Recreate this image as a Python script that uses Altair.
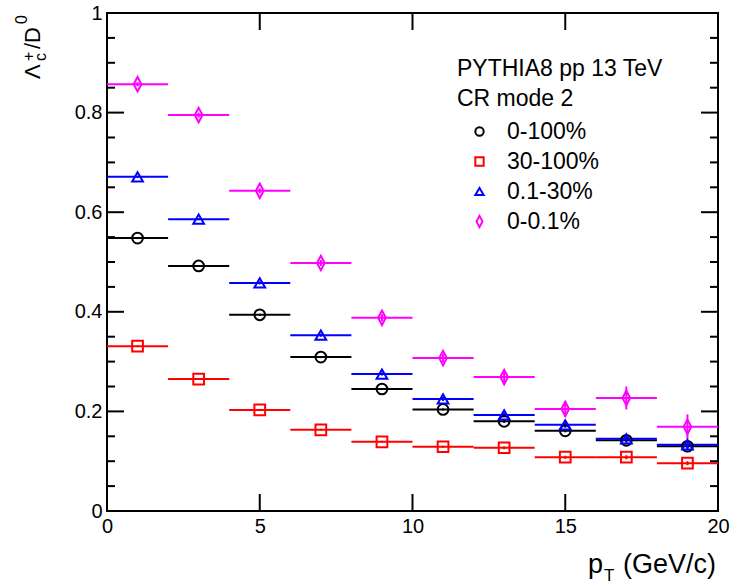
import altair as alt
import pandas as pd

FONT = "Liberation Sans"

series_names = ["0-100%", "30-100%", "0.1-30%", "0-0.1%"]
series_colors = ["#000000", "#ff0000", "#0000ff", "#ff00ff"]
series_shapes = ["circle", "square", "triangle-up", "M0,-1.35L0.72,0L0,1.35L-0.72,0Z"]

pt_center = [1, 3, 5, 7, 9, 11, 13, 15, 17, 19]
pt_lo = [0, 2, 4, 6, 8, 10, 12, 14, 16, 18]
pt_hi = [2, 4, 6, 8, 10, 12, 14, 16, 18, 20]

ratio_0_100 = [0.548, 0.492, 0.394, 0.309, 0.245, 0.204, 0.180, 0.161, 0.142, 0.130]
ratio_30_100 = [0.331, 0.265, 0.203, 0.163, 0.139, 0.129, 0.127, 0.108, 0.108, 0.096]
ratio_01_30 = [0.671, 0.586, 0.458, 0.353, 0.275, 0.225, 0.193, 0.173, 0.145, 0.133]
ratio_0_01 = [0.857, 0.795, 0.643, 0.498, 0.388, 0.307, 0.269, 0.205, 0.227, 0.169]

err_0_100 = [0.002, 0.002, 0.002, 0.002, 0.002, 0.002, 0.003, 0.003, 0.004, 0.004]
err_30_100 = [0.002, 0.002, 0.002, 0.002, 0.002, 0.002, 0.003, 0.003, 0.004, 0.004]
err_01_30 = [0.002, 0.002, 0.003, 0.003, 0.003, 0.004, 0.005, 0.006, 0.008, 0.010]
err_0_01 = [0.004, 0.005, 0.005, 0.006, 0.007, 0.008, 0.011, 0.015, 0.023, 0.025]

x_major = [0, 5, 10, 15, 20]
y_major = [0, 0.2, 0.4, 0.6, 0.8, 1]
y_minor = [0.05, 0.1, 0.15, 0.25, 0.3, 0.35, 0.45, 0.5, 0.55, 0.65, 0.7, 0.75, 0.85, 0.9, 0.95]

W, H = 611, 498

rows = []
for name, vals, errs in zip(series_names,
                            [ratio_0_100, ratio_30_100, ratio_01_30, ratio_0_01],
                            [err_0_100, err_30_100, err_01_30, err_0_01]):
    for c, lo, hi, v, e in zip(pt_center, pt_lo, pt_hi, vals, errs):
        rows.append({"series": name, "pt": c, "lo": lo, "hi": hi, "val": v,
                     "ylo": v - e, "yhi": v + e})
df = pd.DataFrame(rows)

xscale = alt.Scale(domain=[0, 20], nice=False, zero=False)
yscale = alt.Scale(domain=[0, 1], nice=False, zero=False)
xaxis = alt.Axis(values=x_major, format="d", title=None, labelFlush=False,
                 labelPadding=5)
yaxis = alt.Axis(values=y_major, format="~g", title=None, labelPadding=5)

color_scale = alt.Scale(domain=series_names, range=series_colors)
shape_scale = alt.Scale(domain=series_names, range=series_shapes)
legend_title = ["PYTHIA8 pp 13 TeV", "CR mode 2"]
color_enc = alt.Color("series:N", scale=color_scale, title=legend_title)

base = alt.Chart(df)

hbar = base.mark_rule(strokeWidth=2).encode(
    x=alt.X("lo:Q", scale=xscale, axis=xaxis),
    x2="hi:Q",
    y=alt.Y("val:Q", scale=yscale, axis=yaxis),
    color=color_enc,
)
vbar = base.mark_rule(strokeWidth=2).encode(
    x=alt.X("pt:Q", scale=xscale, axis=xaxis),
    y=alt.Y("ylo:Q", scale=yscale, axis=yaxis),
    y2="yhi:Q",
    color=color_enc,
)
points = base.mark_point(filled=False, strokeWidth=2, size=115, opacity=1).encode(
    x=alt.X("pt:Q", scale=xscale, axis=xaxis),
    y=alt.Y("val:Q", scale=yscale, axis=yaxis),
    color=color_enc,
    shape=alt.Shape("series:N", scale=shape_scale, title=legend_title),
)

xt = pd.DataFrame({"t": x_major})
ytM = pd.DataFrame({"t": y_major})
ytm = pd.DataFrame({"t": y_minor})

def xticks(y1, y2):
    return alt.Chart(xt).mark_rule(strokeWidth=2, color="black").encode(
        x=alt.X("t:Q", scale=xscale, axis=xaxis), y=alt.value(y1), y2=alt.value(y2))

def yticks(d, x1, x2):
    return alt.Chart(d).mark_rule(strokeWidth=2, color="black").encode(
        y=alt.Y("t:Q", scale=yscale, axis=yaxis), x=alt.value(x1), x2=alt.value(x2))

ticks = [
    xticks(H, H - 17), xticks(0, 17),
    yticks(ytM, 0, 17), yticks(ytM, W, W - 17),
    yticks(ytm, 0, 8), yticks(ytm, W, W - 8),
]

one = alt.Data(values=[{}])

def txt(s, x, y, size, angle=0):
    kw = dict(text=s, font=FONT, fontSize=size, align="left",
              baseline="alphabetic", color="black")
    if angle:
        kw["angle"] = angle
    return alt.Chart(one).mark_text(**kw).encode(x=alt.value(x), y=alt.value(y))

titles = [
    txt("p", 588 - 107, 573 - 13, 27),
    txt("T", 604 - 107, 581 - 13, 17),
    txt("(GeV/c)", 623 - 107, 573 - 13, 27),
    txt("\u039b", -67, 66, 22, 270),
    txt("c", -61, 48, 16, 270),
    txt("+", -73, 48, 16, 270),
    txt("/D", -67, 36, 22, 270),
    txt("0", -80, 11, 16, 270),
]

chart = alt.layer(hbar, vbar, *ticks, points, *titles).properties(
    width=W, height=H,
    autosize=alt.AutoSizeParams(type="none"),
    padding={"left": 107, "top": 13, "right": 14, "bottom": 75},
).configure_view(
    stroke="black", strokeWidth=2
).configure_axis(
    labelFont=FONT, labelFontSize=20, labelColor="black",
    ticks=False, domain=False, grid=False,
).configure_legend(
    orient="none", legendX=350, legendY=45,
    titleFont=FONT, titleFontSize=23, titleFontWeight="normal", titleColor="black",
    titleLineHeight=30, titlePadding=9, titleLimit=400,
    labelFont=FONT, labelFontSize=23, labelColor="black", labelLimit=300,
    symbolSize=70, symbolStrokeWidth=2, symbolOffset=11, labelOffset=16,
    rowPadding=6,
)

chart.save("out.html", embed_options={"renderer": "svg", "actions": False})
